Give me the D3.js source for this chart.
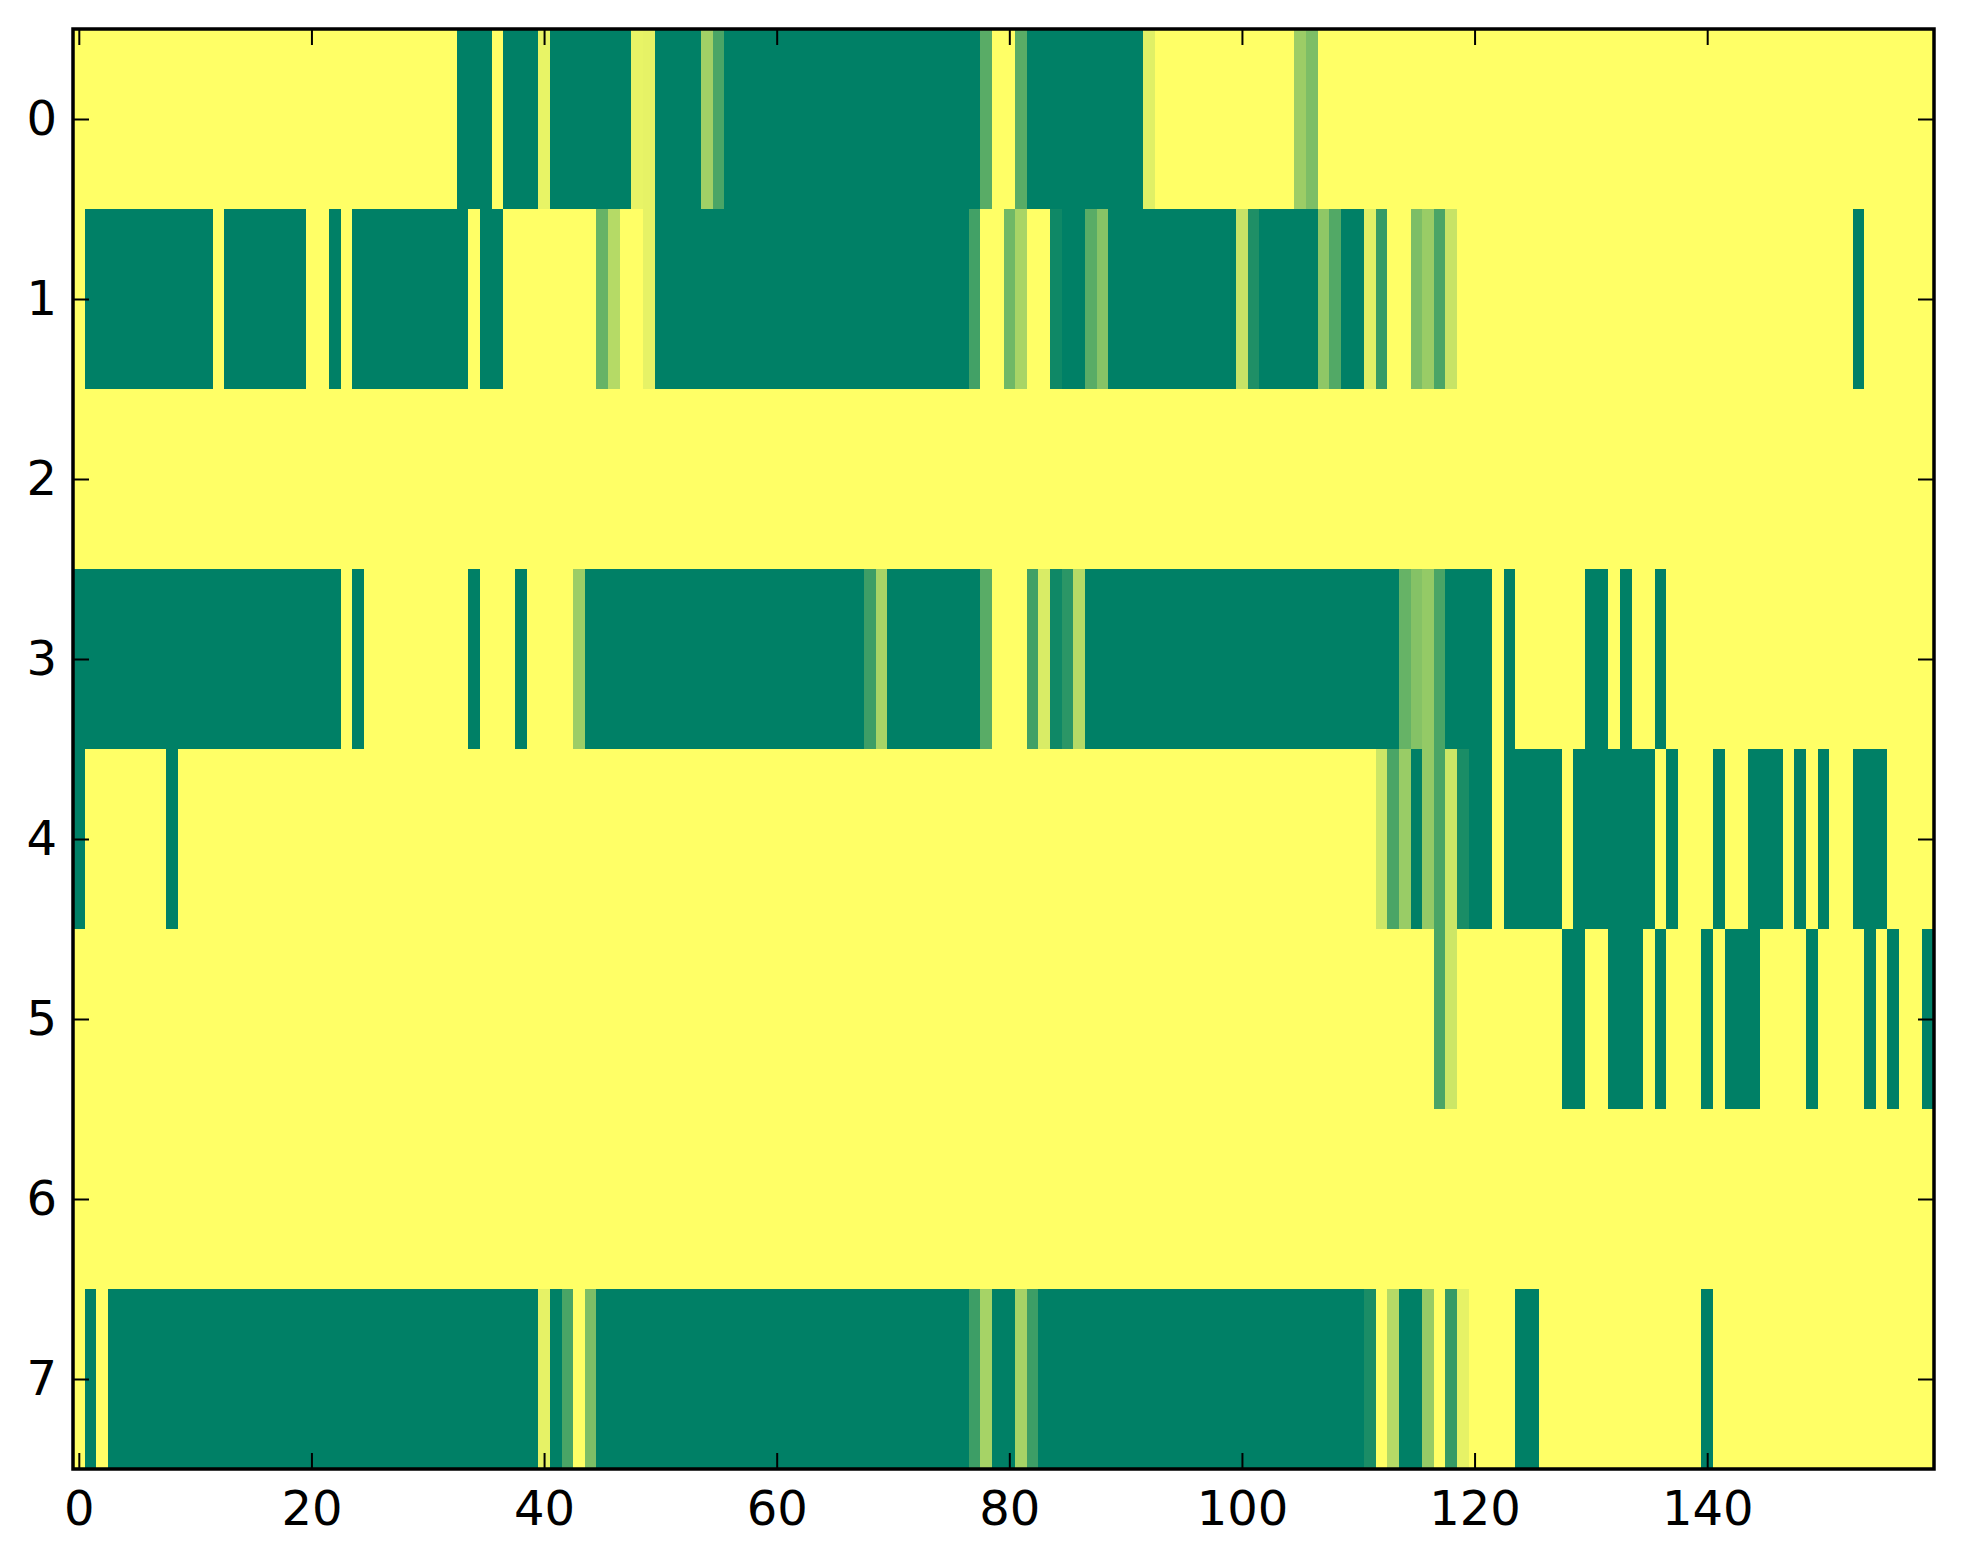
<!DOCTYPE html>
<html>
<head>
<meta charset="utf-8">
<script src="https://cdn.jsdelivr.net/npm/d3@7"></script>
<style>
  body { margin: 0; background: #fff; }
  svg { display: block; }
  .tick text { font-family: "DejaVu Sans", sans-serif; font-size: 48px; fill: #000; }
</style>
</head>
<body>
<svg id="chart"></svg>
<script>
// one array per image row, 160 columns each, values 0..1 (summer_r colormap)
const row0 = [
  0,0,0,0,0,0,0,0,0,0,0,0,0,0,0,0,0,0,0,0,
  0,0,0,0,0,0,0,0,0,0,0,0,0,1,1,1,0,1,1,1,
  .09,1,1,1,1,1,1,1,.09,.1,1,1,1,1,.37,.71,1,1,1,1,
  1,1,1,1,1,1,1,1,1,1,1,1,1,1,1,1,1,1,.65,0,
  0,.65,1,1,1,1,1,1,1,1,1,1,.12,0,0,0,0,0,0,0,
  0,0,0,0,0,.39,.51,0,0,0,0,0,0,0,0,0,0,0,0,0,
  0,0,0,0,0,0,0,0,0,0,0,0,0,0,0,0,0,0,0,0,
  0,0,0,0,0,0,0,0,0,0,0,0,0,0,0,0,0,0,0,0
];
const row1 = [
  0,1,1,1,1,1,1,1,1,1,1,1,0,1,1,1,1,1,1,1,
  0,0,1,0,1,1,1,1,1,1,1,1,1,1,0,1,1,0,0,0,
  0,0,0,0,0,.6,.29,0,0,.1,1,1,1,1,1,1,1,1,1,1,
  1,1,1,1,1,1,1,1,1,1,1,1,1,1,1,1,1,.74,0,0,
  .56,.34,0,0,.94,1,1,.65,.47,1,1,1,1,1,1,1,1,1,1,1,
  .22,.88,1,1,1,1,1,.44,.68,1,1,.12,.79,0,0,.51,.4,.71,.22,0,
  0,0,0,0,0,0,0,0,0,0,0,0,0,0,0,0,0,0,0,0,
  0,0,0,0,0,0,0,0,0,0,0,0,0,1,0,0,0,0,0,0
];
const row2 = [
  0,0,0,0,0,0,0,0,0,0,0,0,0,0,0,0,0,0,0,0,
  0,0,0,0,0,0,0,0,0,0,0,0,0,0,0,0,0,0,0,0,
  0,0,0,0,0,0,0,0,0,0,0,0,0,0,0,0,0,0,0,0,
  0,0,0,0,0,0,0,0,0,0,0,0,0,0,0,0,0,0,0,0,
  0,0,0,0,0,0,0,0,0,0,0,0,0,0,0,0,0,0,0,0,
  0,0,0,0,0,0,0,0,0,0,0,0,0,0,0,0,0,0,0,0,
  0,0,0,0,0,0,0,0,0,0,0,0,0,0,0,0,0,0,0,0,
  0,0,0,0,0,0,0,0,0,0,0,0,0,0,0,0,0,0,0,0
];
const row3 = [
  1,1,1,1,1,1,1,1,1,1,1,1,1,1,1,1,1,1,1,1,
  1,1,1,0,1,0,0,0,0,0,0,0,0,0,1,0,0,0,1,0,
  0,0,0,.39,1,1,1,1,1,1,1,1,1,1,1,1,1,1,1,1,
  1,1,1,1,1,1,1,1,.76,.34,1,1,1,1,1,1,1,1,.65,0,
  0,0,.75,.15,.94,.83,.29,1,1,1,1,1,1,1,1,1,1,1,1,1,
  1,1,1,1,1,1,1,1,1,1,1,1,1,1,.6,.48,.42,.71,1,1,
  1,1,0,1,0,0,0,0,0,0,1,1,0,1,0,0,1,0,0,0,
  0,0,0,0,0,0,0,0,0,0,0,0,0,0,0,0,0,0,0,0
];
const row4 = [
  1,0,0,0,0,0,0,0,1,0,0,0,0,0,0,0,0,0,0,0,
  0,0,0,0,0,0,0,0,0,0,0,0,0,0,0,0,0,0,0,0,
  0,0,0,0,0,0,0,0,0,0,0,0,0,0,0,0,0,0,0,0,
  0,0,0,0,0,0,0,0,0,0,0,0,0,0,0,0,0,0,0,0,
  0,0,0,0,0,0,0,0,0,0,0,0,0,0,0,0,0,0,0,0,
  0,0,0,0,0,0,0,0,0,0,0,0,.2,.71,.4,1,.42,.71,.2,.9,
  1,1,0,1,1,1,1,1,0,1,1,1,1,1,1,1,0,1,0,0,
  0,1,0,0,1,1,1,0,1,0,1,0,0,1,1,1,0,0,0,0
];
const row5 = [
  0,0,0,0,0,0,0,0,0,0,0,0,0,0,0,0,0,0,0,0,
  0,0,0,0,0,0,0,0,0,0,0,0,0,0,0,0,0,0,0,0,
  0,0,0,0,0,0,0,0,0,0,0,0,0,0,0,0,0,0,0,0,
  0,0,0,0,0,0,0,0,0,0,0,0,0,0,0,0,0,0,0,0,
  0,0,0,0,0,0,0,0,0,0,0,0,0,0,0,0,0,0,0,0,
  0,0,0,0,0,0,0,0,0,0,0,0,0,0,0,0,0,.71,.2,0,
  0,0,0,0,0,0,0,0,1,1,0,0,1,1,1,0,1,0,0,0,
  1,0,1,1,1,0,0,0,0,1,0,0,0,0,1,0,1,0,0,1
];
const row6 = [
  0,0,0,0,0,0,0,0,0,0,0,0,0,0,0,0,0,0,0,0,
  0,0,0,0,0,0,0,0,0,0,0,0,0,0,0,0,0,0,0,0,
  0,0,0,0,0,0,0,0,0,0,0,0,0,0,0,0,0,0,0,0,
  0,0,0,0,0,0,0,0,0,0,0,0,0,0,0,0,0,0,0,0,
  0,0,0,0,0,0,0,0,0,0,0,0,0,0,0,0,0,0,0,0,
  0,0,0,0,0,0,0,0,0,0,0,0,0,0,0,0,0,0,0,0,
  0,0,0,0,0,0,0,0,0,0,0,0,0,0,0,0,0,0,0,0,
  0,0,0,0,0,0,0,0,0,0,0,0,0,0,0,0,0,0,0,0
];
const row7 = [
  0,1,0,1,1,1,1,1,1,1,1,1,1,1,1,1,1,1,1,1,
  1,1,1,1,1,1,1,1,1,1,1,1,1,1,1,1,1,1,1,1,
  .1,1,.71,0,.51,1,1,1,1,1,1,1,1,1,1,1,1,1,1,1,
  1,1,1,1,1,1,1,1,1,1,1,1,1,1,1,1,1,.76,.35,1,
  1,.35,.76,1,1,1,1,1,1,1,1,1,1,1,1,1,1,1,1,1,
  1,1,1,1,1,1,1,1,1,1,1,.9,0,.29,1,1,.41,0,.79,.1,
  0,0,0,0,1,1,0,0,0,0,0,0,0,0,0,0,0,0,0,0,
  1,0,0,0,0,0,0,0,0,0,0,0,0,0,0,0,0,0,0,0
];
const rows = [row0, row1, row2, row3, row4, row5, row6, row7];

const xTicks = [0, 20, 40, 60, 80, 100, 120, 140];
const yTicks = [0, 1, 2, 3, 4, 5, 6, 7];

const width = 1963;
const height = 1564;
const margin = { top: 29, right: 29, bottom: 95, left: 73 };
const nCols = row0.length;

const svg = d3.select("#chart").attr("width", width).attr("height", height);

// imshow style extents: cells centred on integer indices
const x = d3.scaleLinear()
  .domain([-0.5, nCols - 0.5])
  .range([margin.left, width - margin.right]);
const y = d3.scaleLinear()
  .domain([-0.5, rows.length - 0.5])
  .range([margin.top, height - margin.bottom]);

// summer_r: 0 -> yellow, 1 -> green
const color = d3.scaleLinear().domain([0, 1]).range(["#ffff66", "#008066"]);

let cells = [];
rows.forEach((r, ri) => {
  r.forEach((v, ci) => {
    cells.push({ row: ri, col: ci, value: v });
  });
});

svg.append("g")
  .selectAll("rect")
  .data(cells)
  .enter()
  .append("rect")
  .attr("x", (d) => x(d.col - 0.5))
  .attr("y", (d) => y(d.row - 0.5))
  .attr("width", (d) => x(d.col + 0.5) - x(d.col - 0.5))
  .attr("height", (d) => y(d.row + 0.5) - y(d.row - 0.5))
  .attr("fill", (d) => color(d.value))
  .attr("shape-rendering", "crispEdges");

let styleAxis = (g) => {
  g.select(".domain").remove();
  g.selectAll(".tick line").attr("stroke", "#000").attr("stroke-width", 2);
};

const tickLen = 16;
const bottom = height - margin.bottom;
const right = width - margin.right;

svg.append("g")
  .attr("transform", "translate(0," + bottom + ")")
  .call(d3.axisBottom(x).tickValues(xTicks).tickSize(-tickLen).tickPadding(22))
  .call(styleAxis);

svg.append("g")
  .attr("transform", "translate(0," + margin.top + ")")
  .call(d3.axisTop(x).tickValues(xTicks).tickSize(-tickLen).tickFormat(""))
  .call(styleAxis);

svg.append("g")
  .attr("transform", "translate(" + margin.left + ",0)")
  .call(d3.axisLeft(y).tickValues(yTicks).tickSize(-tickLen).tickPadding(16))
  .call(styleAxis);

svg.append("g")
  .attr("transform", "translate(" + right + ",0)")
  .call(d3.axisRight(y).tickValues(yTicks).tickSize(-tickLen).tickFormat(""))
  .call(styleAxis);

// frame
svg.append("rect")
  .attr("x", margin.left)
  .attr("y", margin.top)
  .attr("width", right - margin.left)
  .attr("height", bottom - margin.top)
  .attr("fill", "none")
  .attr("stroke", "#000")
  .attr("stroke-width", 3.5);
</script>
</body>
</html>
